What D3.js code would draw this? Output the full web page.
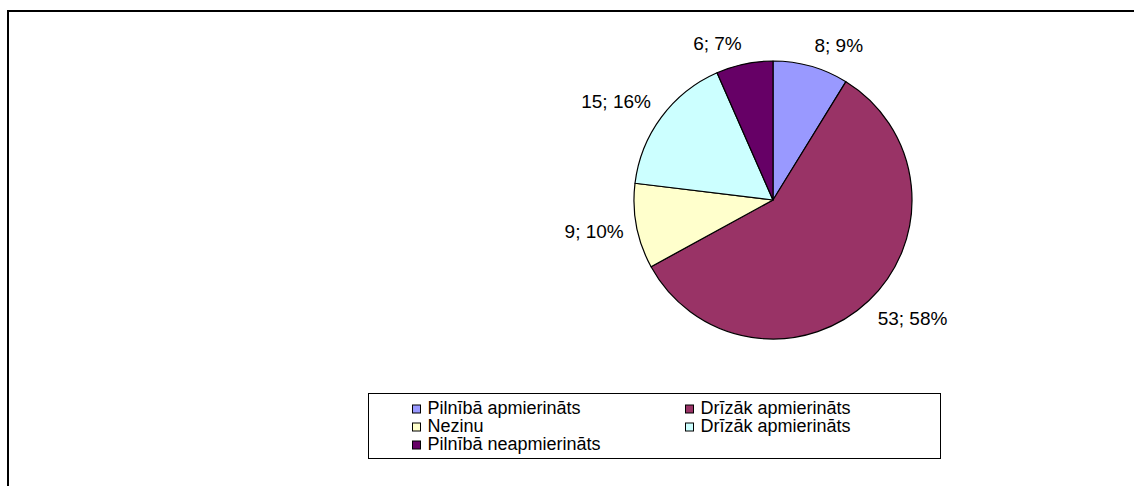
<!DOCTYPE html>
<html>
<head>
<meta charset="utf-8">
<script src="https://cdn.jsdelivr.net/npm/d3@7"></script>
<style>
  html, body { margin: 0; padding: 0; background: #fff; }
  svg { display: block; }
  text { font-family: "Liberation Sans", Arial, sans-serif; fill: #000; }
</style>
</head>
<body>
<svg id="chart" width="1134" height="486"></svg>
<script>
const categories = ["Pilnībā apmierināts", "Drīzāk apmierināts", "Nezinu", "Drīzāk apmierināts", "Pilnībā neapmierināts"];
const values = [8, 53, 9, 15, 6];
const percents = ["9%", "58%", "10%", "16%", "7%"];
const colors = ["#9999FF", "#993366", "#FFFFCC", "#CCFFFF", "#660066"];

const svg = d3.select("#chart");
const W = 1134, H = 486;

// outer frame (only top and left edges visible)
svg.append("rect")
  .attr("x", 8).attr("y", 11)
  .attr("width", W + 20).attr("height", H + 20)
  .attr("fill", "none").attr("stroke", "#000").attr("stroke-width", 2);

const cx = 773, cy = 200, r = 139;
const g = svg.append("g").attr("transform", `translate(${cx},${cy})`);

const pie = d3.pie().sort(null).value(d => d.v);
const data = values.map((v, i) => ({ v, i }));
const arcs = pie(data);
const arc = d3.arc().innerRadius(0).outerRadius(r);

g.selectAll("path.slice").data(arcs).enter().append("path")
  .attr("class", "slice")
  .attr("d", arc)
  .attr("fill", d => colors[d.data.i])
  .attr("stroke", "#000")
  .attr("stroke-width", 1.2)
  .attr("stroke-linejoin", "round");

// data labels (outside end), placed by nearest-corner model
const labelR = r + 13;
const labels = g.selectAll("text.lbl").data(arcs).enter().append("text")
  .attr("class", "lbl")
  .style("font-size", "19px")
  .attr("dominant-baseline", "central")
  .attr("text-anchor", "middle")
  .text(d => `${d.data.v}; ${percents[d.data.i]}`);

labels.each(function(d) {
  const a = (d.startAngle + d.endAngle) / 2;
  const s = Math.sin(a), c = -Math.cos(a);
  const w = this.getComputedTextLength();
  const h = 16;
  const px = labelR * s, py = labelR * c;
  const x = px + Math.sign(s) * w / 2;
  const y = py + Math.sign(c) * h / 2 - (Math.abs(c) < 0.3 ? 5 : 0);
  d3.select(this).attr("x", x).attr("y", y);
});

// legend
const lx = 368.5, ly = 393.5, lw = 572, lh = 65;
svg.append("rect")
  .attr("x", lx).attr("y", ly).attr("width", lw).attr("height", lh)
  .attr("fill", "#fff").attr("stroke", "#000").attr("stroke-width", 1);

const colX = d3.scaleOrdinal().domain([0, 1]).range([lx + 44, lx + 317]);
const rowY = d3.scaleLinear().domain([0, 1]).range([ly + 20, ly + 38]);

const items = svg.selectAll("g.leg").data(categories).enter().append("g")
  .attr("class", "leg")
  .attr("transform", (d, i) => `translate(${colX(i % 2)},${rowY(Math.floor(i / 2))})`);

items.append("rect")
  .attr("x", 0).attr("y", -8.5).attr("width", 8).attr("height", 8)
  .attr("fill", (d, i) => colors[i])
  .attr("stroke", "#000").attr("stroke-width", 1);

items.append("text")
  .attr("x", 15).attr("y", 0)
  .style("font-size", "18px")
  .text(d => d);
</script>
</body>
</html>
